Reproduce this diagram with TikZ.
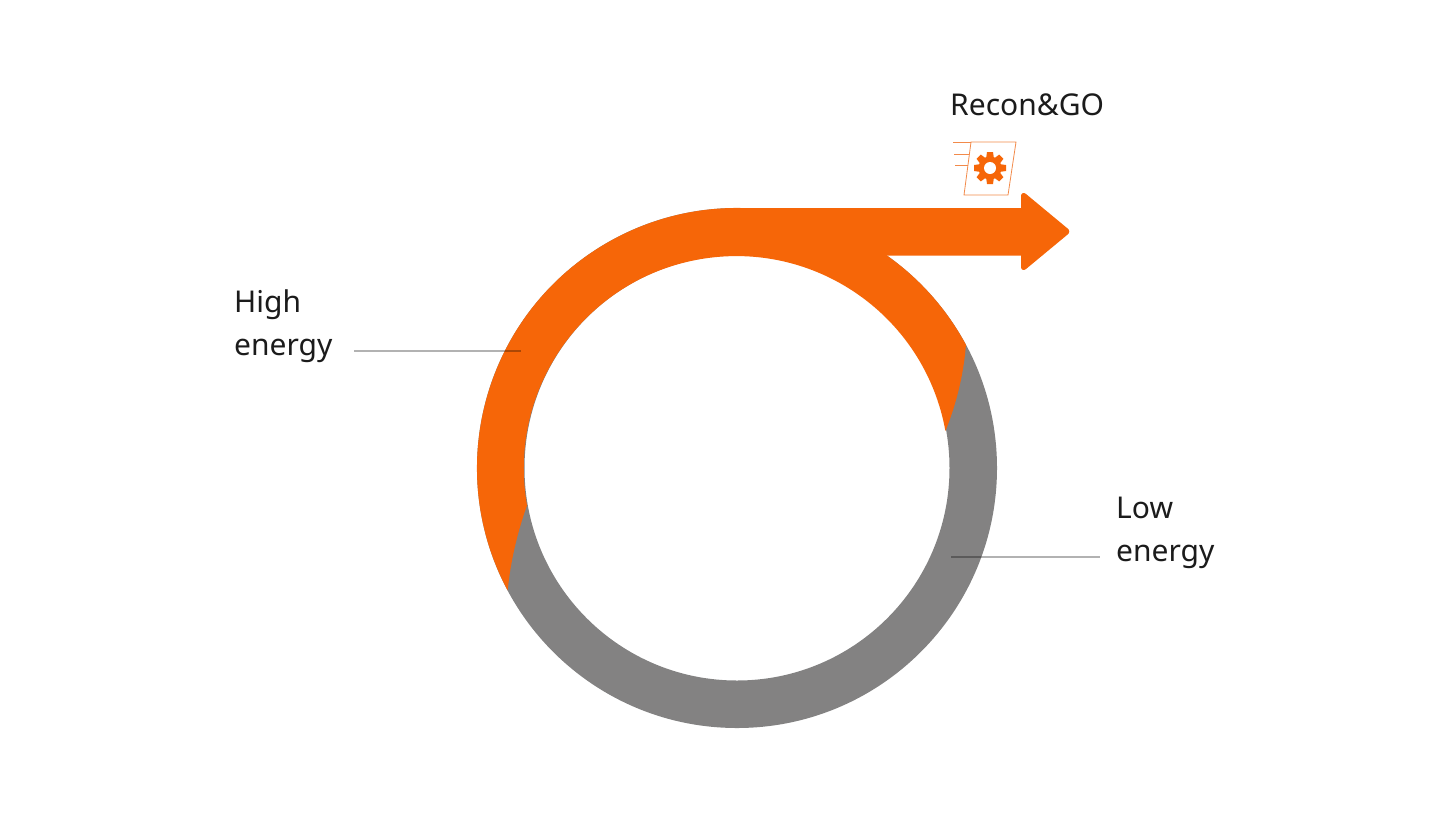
\documentclass[tikz,border=0pt]{standalone}
\usepackage{fontspec}
\setmainfont{Noto Sans}
\definecolor{ringorange}{HTML}{F66608}
\definecolor{ringgray}{HTML}{838282}
\definecolor{labelink}{HTML}{1B1B1B}
\definecolor{iconline}{HTML}{F28A4A}
\tikzset{
  bigtext/.style={font=\fontsize{30}{36}\selectfont, text=labelink, inner sep=0pt, anchor=base west},
  leader/.style={draw=black, draw opacity=0.3, line width=1.1pt},
  thinorange/.style={draw=iconline, line width=0.8pt},
}
\begin{document}
\begin{tikzpicture}[x=1pt,y=-1pt]
\useasboundingbox (0,0) rectangle (1448,815);
% ring
\fill[ringgray, even odd rule] (737,468) circle[radius=260] (737,468) circle[radius=212.5];
% orange part of ring
\fill[ringorange] (737,468) ++(-28.3:260) arc[start angle=-28.3, end angle=-208.1, radius=260]
  .. controls (510,566) and (516,536) .. (527,505.500)
  arc[start angle=-190, end angle=-10.2, radius=212.5]
  .. controls (958,400) and (964,370) .. cycle;
% arrow
\fill[ringorange] (737,208) -- (1021,208) -- (1021,196)
  .. controls (1021,193) and (1024,192) .. (1026,194)
  -- (1067,228) .. controls (1070,230) and (1070,233) .. (1067,235)
  -- (1026,269) .. controls (1024,271) and (1021,270) .. (1021,267)
  -- (1021,255.500) -- (737,255.500) -- cycle;
% icon
\draw[thinorange] (971,142) -- (1016,142) -- (1008,195) -- (964,195) -- cycle;
\draw[thinorange] (953,142) -- (971,142);
\draw[thinorange] (954,154) -- (969.2,154);
\draw[thinorange] (955,165.500) -- (967.500,165.500);
\begin{scope}[shift={(990,168)}]
  \foreach \a in {0,45,...,315}{
    \fill[ringorange, rotate=\a] (-3,-16) -- (3,-16) -- (4,-9) -- (-4,-9) -- cycle;
  }
  \fill[ringorange] (0,0) circle[radius=11.5];
  \fill[white] (0,0) circle[radius=6];
\end{scope}
% labels
\node[bigtext] (recon) at (950,115) {Recon\&GO};
\node[bigtext] (high) at (234,312) {High};
\node[bigtext] (energya) at (234,355) {energy};
\node[bigtext] (low) at (1116,518) {Low};
\node[bigtext] (energyb) at (1116,561) {energy};
% leaders
\coordinate (h1) at (354,351);
\coordinate (h2) at (521,351);
\coordinate (l1) at (951,557);
\coordinate (l2) at (1100,557);
\draw[leader] (h1) -- (h2);
\draw[leader] (l1) -- (l2);
\end{tikzpicture}
\end{document}
